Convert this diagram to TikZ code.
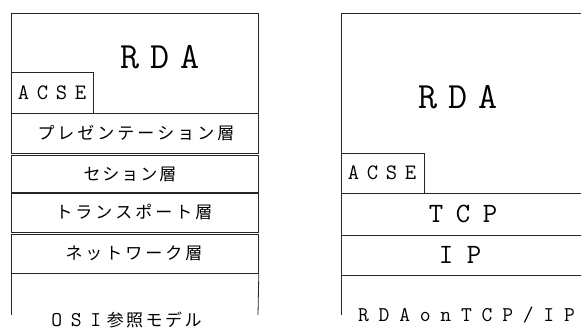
\documentclass[tikz,border=0pt]{standalone}
\usepackage{fontspec}
\newfontfamily\jp{Noto Sans CJK JP}
\newcommand\mono{\ttfamily}
\makeatletter
\newcommand\spaced[2]{\@tfor\spc@x:=#2\do{\makebox[#1]{\spc@x}}}
\makeatother
\tikzset{
  frame/.style={draw=black!85, line width=0.8pt},
  layer/.style={frame, rectangle, anchor=north west, inner sep=0pt},
  jptext/.style={font=\jp\fontsize{17}{17}\selectfont},
  bigtext/.style={font=\mono\fontsize{37}{37}\selectfont},
  midtext/.style={font=\mono\fontsize{28}{28}\selectfont},
  acsetext/.style={font=\mono\fontsize{22}{22}\selectfont},
  smalltext/.style={font=\mono\fontsize{21}{21}\selectfont},
}
\begin{document}
\begin{tikzpicture}[x=1pt,y=-1pt]
\useasboundingbox (0,0) rectangle (581,332);
\clip (0,0) rectangle (581,332);
% ---------- left: OSI ----------
\coordinate (lt1) at (11,113);
\coordinate (lt2) at (11,13);
\coordinate (lt3) at (258,13);
\coordinate (lt4) at (258,113);
\draw[frame] (lt1) -- (lt2) -- (lt3) -- (lt4);
\node[bigtext] (lrda) at (160,57) {\spaced{30pt}{RDA}};
\node[layer, minimum width=82pt, minimum height=41pt] (lacse) at (11,72) {};
\node[acsetext] (lacset) at (52,93) {\spaced{19pt}{ACSE}};
\node[layer, minimum width=247pt, minimum height=40pt] (pres) at (11,113) {};
\node[jptext] (prest) at (136,133) {\spaced{20pt}{プレゼンテーション層}};
\node[layer, minimum width=247pt, minimum height=37pt] (sess) at (11,155) {};
\node[jptext] (sesst) at (130,174) {\spaced{19pt}{セション層}};
\node[layer, minimum width=247pt, minimum height=39pt] (trans) at (11,193) {};
\node[jptext] (transt) at (134,212) {\spaced{20pt}{トランスポート層}};
\node[layer, minimum width=247pt, minimum height=39pt] (net) at (11,234) {};
\node[jptext] (nett) at (134,253) {\spaced{20pt}{ネットワーク層}};
\coordinate (lb1) at (11,315);
\coordinate (lb2) at (258,315);
\draw[frame] (net.south west) -- (lb1);
\draw[frame] (net.south east) -- (lb2);
\node[inner sep=0pt] (osi) at (125,320) {{\mono\fontsize{21}{21}\selectfont\spaced{19.5pt}{OSI}}{\jp\fontsize{17}{17}\selectfont\spaced{19.5pt}{参照モデル}}};
% ---------- right: RDA on TCP/IP ----------
\coordinate (rt1) at (341,153);
\coordinate (rt2) at (341,13);
\coordinate (rt3) at (600,13);
\draw[frame] (rt1) -- (rt2) -- (rt3);
\node[bigtext] (rrda) at (458,97) {\spaced{30pt}{RDA}};
\node[layer, minimum width=83pt, minimum height=40pt] (racse) at (341,153) {};
\node[acsetext] (racset) at (382,173) {\spaced{19pt}{ACSE}};
\node[layer, minimum width=259pt, minimum height=42pt] (tcp) at (341,193) {};
\node[midtext] (tcpt) at (463,214) {\spaced{27pt}{TCP}};
\node[layer, minimum width=259pt, minimum height=40pt] (ip) at (341,235) {};
\node[midtext] (ipt) at (460,255) {\spaced{28pt}{IP}};
\coordinate (rb1) at (341,315);
\draw[frame] (ip.south west) -- (rb1);
\node[smalltext, anchor=west, inner sep=0pt] (rlabel) at (353,315) {\spaced{20.6pt}{RDAonTCP/IP}};
\end{tikzpicture}
\end{document}
